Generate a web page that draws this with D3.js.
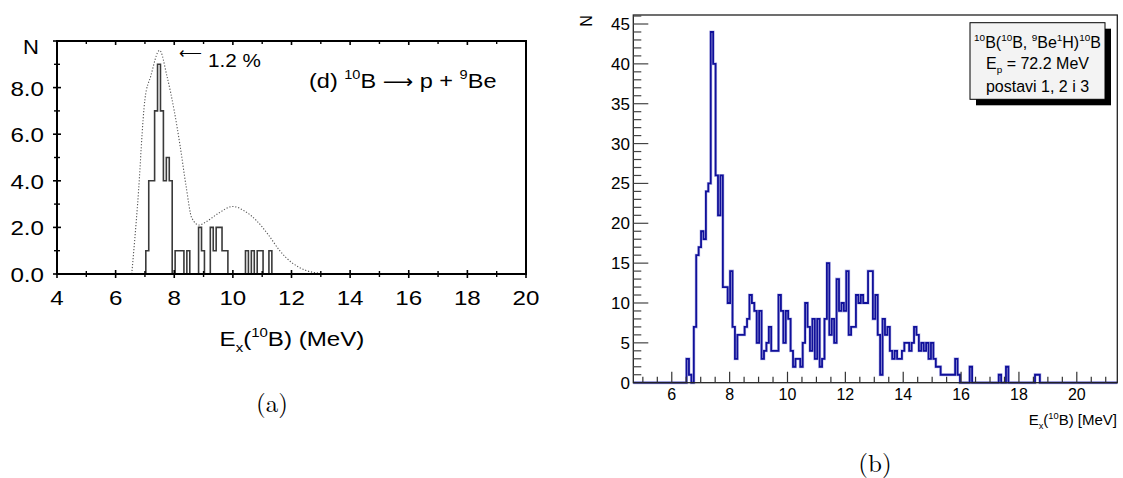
<!DOCTYPE html>
<html><head><meta charset="utf-8">
<script src="https://cdn.jsdelivr.net/npm/d3@7"></script>
<style>
body{margin:0;background:#fff;}
svg{display:block;}
text{font-family:"Liberation Sans", Arial, Helvetica, sans-serif;fill:#000;}
</style></head><body>
<svg id="c" width="1123" height="478"></svg>
<script>
// ---------- Panel (a) data ----------
const aXTicks = [4, 6, 8, 10, 12, 14, 16, 18, 20];
const aYTicks = [0, 2, 4, 6, 8];
const aBinStart = 7.03;
const aBinWidth = 0.1;
const aCounts = [1,4,4,7,9,7,4,5,4,0,
                 1,1,1,0,1,0,0,0,2,1,
                 0,0,2,1,2,2,1,1,0,0,
                 0,0,0,0,1,0,1,0,1,1,
                 0,0,1];
const aCurveE = [6.55, 6.75, 7.0, 7.2, 7.5, 7.75, 8.0, 8.2, 8.4, 8.6, 8.85, 9.1, 9.5, 10.0, 10.4, 10.8, 11.2, 11.6, 12.0, 12.5, 13.0, 13.3, 20.0];
const aCurveN = [0.0, 3.0, 7.5, 8.5, 9.6, 8.5, 7.0, 5.5, 3.8, 2.4, 2.1, 2.25, 2.6, 2.9, 2.7, 2.3, 1.7, 1.0, 0.5, 0.15, 0.03, 0.0, 0.0];

// ---------- Panel (b) data ----------
const bXTicks = [6, 8, 10, 12, 14, 16, 18, 20];
const bYTicks = [0, 5, 10, 15, 20, 25, 30, 35, 40, 45];
const bLo = 4.67, bHi = 21.4, bNbins = 200;
const bFirstBin = 22;
const bCounts = [
  3,1,0,7,16,17,19,18,24,25,            // 22-31
  44,40,26,21,26,12,12,10,14,7,         // 32-41
  3,6,6,6,7,8,11,10,9,5,                // 42-51
  9,3,4,5,7,4,4,4,11,9,                 // 52-61
  5,9,8,4,2,3,3,2,5,10,                 // 62-71
  7,4,8,3,8,2,3,8,15,6,                 // 72-81
  8,5,13,9,10,9,14,6,7,7,               // 82-91
  11,10,11,10,10,14,14,8,11,6,          // 92-101
  1,8,6,7,4,3,4,3,3,4,                  // 102-111
  5,5,4,5,7,6,4,5,4,5,                  // 112-121
  3,5,3,2,2,1,1,1,1,1,                  // 122-131
  1,3,1,0,0,0,0,2,0,0,                  // 132-141
  0,0,0,0,0,0,0,0,0,1,                  // 142-151
  0,0,2,0,0,0,0,0,0,0,                  // 152-161
  0,0,0,0,1,1                           // 162-167
];

const svg = d3.select("#c");
const SX = 1.15; // horizontal stretch of panel (a) lettering

function rich(parent, x, y, parts, size, anchor, sx) {
  const gg = parent.append("g").attr("transform", `translate(${x},${y}) scale(${sx || 1},1)`);
  const t = gg.append("text").attr("x", 0).attr("y", 0)
    .attr("font-size", size).attr("text-anchor", anchor || "start");
  let cur = 0;
  parts.forEach(p => {
    const target = p.sup ? -size * 0.42 : (p.sub ? size * 0.28 : 0);
    const ts = t.append("tspan").attr("dy", target - cur).text(p.t);
    if (p.sup || p.sub) ts.attr("font-size", size * 0.62);
    if (p.ff) ts.attr("font-family", p.ff);
    if (p.fs) ts.attr("font-size", p.fs);
    cur = target;
  });
  return t;
}
function label(parent, x, y, txt, size, anchor, sx) {
  return parent.append("g").attr("transform", `translate(${x},${y}) scale(${sx || 1},1)`)
    .append("text").attr("font-size", size).attr("text-anchor", anchor || "start").text(txt);
}

function histPoints(start, width, counts, lo, hi) {
  const pts = [[lo !== undefined ? lo : start, 0], [start, 0]];
  counts.forEach((c, i) => pts.push([start + i * width, c]));
  const end = start + counts.length * width;
  pts.push([end, counts[counts.length - 1]]);
  pts.push([end, 0]);
  if (hi !== undefined) pts.push([hi, 0]);
  return pts;
}

// ================= Panel (a) =================
{
  const x = d3.scaleLinear().domain([4, 20]).range([57, 526]);
  const y = d3.scaleLinear().domain([0, 10]).range([274, 41]);
  const g = svg.append("g");

  const curve = aCurveE.map((e, i) => [e, aCurveN[i]]);
  g.append("path").datum(curve)
    .attr("d", d3.line().x(d => x(d[0])).y(d => y(d[1])).curve(d3.curveMonotoneX))
    .attr("fill", "none").attr("stroke", "#555").attr("stroke-width", 1.1)
    .attr("stroke-dasharray", "1.2,1.8");

  const hp = histPoints(aBinStart, aBinWidth, aCounts);
  g.append("path").datum(hp)
    .attr("d", d3.line().x(d => x(d[0])).y(d => y(d[1])).curve(d3.curveStepAfter))
    .attr("fill", "none").attr("stroke", "#3a3a3a").attr("stroke-width", 1.6);

  g.append("rect").attr("x", x(4)).attr("y", y(10))
    .attr("width", x(20) - x(4)).attr("height", y(0) - y(10))
    .attr("fill", "none").attr("stroke", "#000").attr("stroke-width", 2);

  const xMinor = d3.range(5, 20, 2);
  aXTicks.forEach(v => {
    g.append("line").attr("x1", x(v)).attr("x2", x(v)).attr("y1", y(0) - 4).attr("y2", y(0) + 4).attr("stroke", "#000").attr("stroke-width", 1.6);
    g.append("line").attr("x1", x(v)).attr("x2", x(v)).attr("y1", y(10)).attr("y2", y(10) + 4).attr("stroke", "#000").attr("stroke-width", 1.6);
  });
  xMinor.forEach(v => {
    g.append("line").attr("x1", x(v)).attr("x2", x(v)).attr("y1", y(0) - 3).attr("y2", y(0) + 3).attr("stroke", "#000").attr("stroke-width", 1.4);
    g.append("line").attr("x1", x(v)).attr("x2", x(v)).attr("y1", y(10)).attr("y2", y(10) + 3).attr("stroke", "#000").attr("stroke-width", 1.4);
  });
  const yMinor = [1, 3, 5, 7, 9];
  aYTicks.concat([10]).forEach(v => {
    g.append("line").attr("x1", x(4) - 4).attr("x2", x(4) + 4).attr("y1", y(v)).attr("y2", y(v)).attr("stroke", "#000").attr("stroke-width", 1.6);
  });
  yMinor.forEach(v => {
    g.append("line").attr("x1", x(4) - 3).attr("x2", x(4) + 3).attr("y1", y(v)).attr("y2", y(v)).attr("stroke", "#000").attr("stroke-width", 1.4);
  });

  aXTicks.forEach(v => label(g, x(v), 305, String(v), 21, "middle", SX));
  aYTicks.forEach(v => label(g, 44, y(v) + 8, d3.format(".1f")(v), 21, "end", SX));
  label(g, 31, 54, "N", 21, "middle", 1.05);

  rich(g, 292, 346, [{t:"E"},{t:"x",sub:true},{t:"("},{t:"10",sup:true},{t:"B) (MeV)"}], 21, "middle", SX);

  // annotation
  g.append("text").attr("x", 179).attr("y", 58).attr("font-size", 16)
    .attr("font-family", "DejaVu Sans").text("⟵");
  label(g, 208, 67, "1.2 %", 18, "start", SX);

  rich(g, 309, 88, [{t:"(d) "},{t:"10",sup:true},{t:"B "},{t:"⟶",ff:"DejaVu Sans",fs:19},{t:" p + "},{t:"9",sup:true},{t:"Be"}], 21, "start", 1.12);

  g.append("text").attr("x", 272).attr("y", 412).attr("text-anchor", "middle")
    .attr("font-size", 25).style("font-family", "'Latin Modern Roman','Liberation Serif','DejaVu Serif',serif")
    .text("(a)");
}

// ================= Panel (b) =================
{
  const x = d3.scaleLinear().domain([bLo, bHi]).range([633.3, 1117.3]);
  const y = d3.scaleLinear().domain([0, 46.13]).range([382.7, 15]);
  const g = svg.append("g");
  const bw = (bHi - bLo) / bNbins;

  const hp = histPoints(bLo + bFirstBin * bw, bw, bCounts, bLo, bHi);
  g.append("path").datum(hp)
    .attr("d", d3.line().x(d => x(d[0])).y(d => y(d[1])).curve(d3.curveStepAfter))
    .attr("fill", "none").attr("stroke", "#8a8ad8").attr("stroke-width", 3).attr("opacity", 0.55);
  g.append("path").datum(hp)
    .attr("d", d3.line().x(d => x(d[0])).y(d => y(d[1])).curve(d3.curveStepAfter))
    .attr("fill", "none").attr("stroke", "#10109a").attr("stroke-width", 1.8);

  g.append("rect").attr("x", x(bLo)).attr("y", y(46.13))
    .attr("width", x(bHi) - x(bLo)).attr("height", y(0) - y(46.13))
    .attr("fill", "none").attr("stroke", "#222").attr("stroke-width", 1.3);

  d3.range(1, 47).forEach(v => {
    const major = v % 5 === 0;
    g.append("line").attr("x1", x(bLo)).attr("x2", x(bLo) + (major ? 15 : 8))
      .attr("y1", y(v)).attr("y2", y(v)).attr("stroke", "#444").attr("stroke-width", 1.2);
  });
  d3.range(5, 21.01, 0.5).forEach(v => {
    const major = bXTicks.includes(v);
    g.append("line").attr("x1", x(v)).attr("x2", x(v))
      .attr("y1", y(0)).attr("y2", y(0) - (major ? 11 : 6)).attr("stroke", "#333").attr("stroke-width", 1.2);
  });

  bYTicks.forEach(v => {
    g.append("text").attr("x", 630).attr("y", y(v) + 6).attr("text-anchor", "end")
      .attr("font-size", 17).text(v);
  });
  bXTicks.forEach(v => {
    g.append("text").attr("x", x(v)).attr("y", 400).attr("text-anchor", "middle")
      .attr("font-size", 16).text(v);
  });
  g.append("text").attr("transform", "translate(592,21) rotate(-90)")
    .attr("text-anchor", "middle").attr("font-size", 16).text("N");

  rich(g, 1117, 425, [{t:"E"},{t:"x",sub:true},{t:"("},{t:"10",sup:true},{t:"B) [MeV]"}], 15, "end");

  g.append("rect").attr("x", 976).attr("y", 28.7).attr("width", 135).attr("height", 76.6).attr("fill", "#000");
  g.append("rect").attr("x", 970).attr("y", 22.7).attr("width", 135).attr("height", 76.6)
    .attr("fill", "#f3f3f3").attr("stroke", "#000").attr("stroke-width", 1);
  rich(g, 1037.5, 48, [{t:"10",sup:true},{t:"B("},{t:"10",sup:true},{t:"B, "},{t:"9",sup:true},{t:"Be"},{t:"1",sup:true},{t:"H)"},{t:"10",sup:true},{t:"B"}], 16, "middle");
  rich(g, 1037.5, 69, [{t:"E"},{t:"p",sub:true},{t:" = 72.2 MeV"}], 16, "middle");
  g.append("text").attr("x", 1037.5).attr("y", 92).attr("text-anchor", "middle").attr("font-size", 16).text("postavi 1, 2 i 3");

  g.append("text").attr("x", 875).attr("y", 472).attr("text-anchor", "middle")
    .attr("font-size", 25).style("font-family", "'Latin Modern Roman','Liberation Serif','DejaVu Serif',serif")
    .text("(b)");
}
</script>
</body></html>
